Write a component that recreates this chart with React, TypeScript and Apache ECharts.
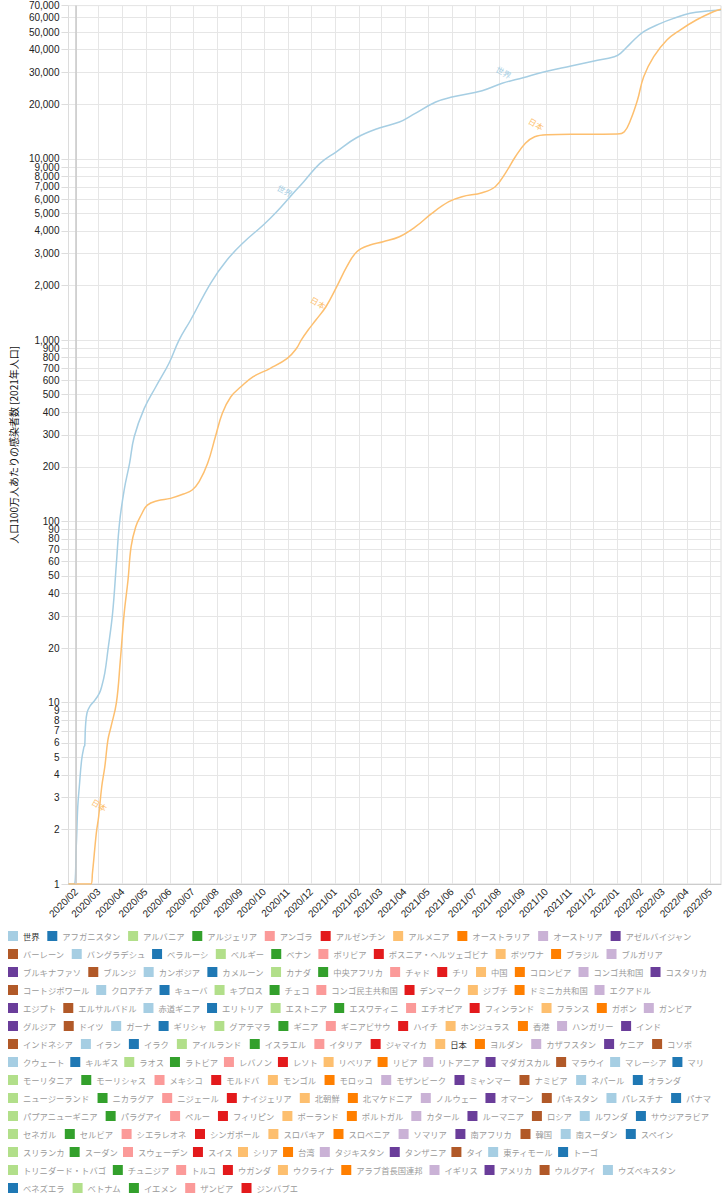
import React, { useEffect, useRef } from "react";
import * as echarts from "echarts";

const PALETTE = [
  "#a6cee3", "#1f78b4", "#b2df8a", "#33a02c", "#fb9a99", "#e31a1c",
  "#fdbf6f", "#ff7f00", "#cab2d6", "#6a3d9a", "#b15928",
];

const legendRows: string[][] = [
  ["世界", "アフガニスタン", "アルバニア", "アルジェリア", "アンゴラ", "アルゼンチン", "アルメニア", "オーストラリア", "オーストリア", "アゼルバイジャン"],
  ["バーレーン", "バングラデシュ", "ベラルーシ", "ベルギー", "ベナン", "ボリビア", "ボスニア・ヘルツェゴビナ", "ボツワナ", "ブラジル", "ブルガリア"],
  ["ブルキナファソ", "ブルンジ", "カンボジア", "カメルーン", "カナダ", "中央アフリカ", "チャド", "チリ", "中国", "コロンビア", "コンゴ共和国", "コスタリカ"],
  ["コートジボワール", "クロアチア", "キューバ", "キプロス", "チェコ", "コンゴ民主共和国", "デンマーク", "ジブチ", "ドミニカ共和国", "エクアドル"],
  ["エジプト", "エルサルバドル", "赤道ギニア", "エリトリア", "エストニア", "エスワティニ", "エチオピア", "フィンランド", "フランス", "ガボン", "ガンビア"],
  ["グルジア", "ドイツ", "ガーナ", "ギリシャ", "グアテマラ", "ギニア", "ギニアビサウ", "ハイチ", "ホンジュラス", "香港", "ハンガリー", "インド"],
  ["インドネシア", "イラン", "イラク", "アイルランド", "イスラエル", "イタリア", "ジャマイカ", "日本", "ヨルダン", "カザフスタン", "ケニア", "コソボ"],
  ["クウェート", "キルギス", "ラオス", "ラトビア", "レバノン", "レソト", "リベリア", "リビア", "リトアニア", "マダガスカル", "マラウイ", "マレーシア", "マリ"],
  ["モーリタニア", "モーリシャス", "メキシコ", "モルドバ", "モンゴル", "モロッコ", "モザンビーク", "ミャンマー", "ナミビア", "ネパール", "オランダ"],
  ["ニュージーランド", "ニカラグア", "ニジェール", "ナイジェリア", "北朝鮮", "北マケドニア", "ノルウェー", "オマーン", "パキスタン", "パレスチナ", "パナマ"],
  ["パプアニューギニア", "パラグアイ", "ペルー", "フィリピン", "ポーランド", "ポルトガル", "カタール", "ルーマニア", "ロシア", "ルワンダ", "サウジアラビア"],
  ["セネガル", "セルビア", "シエラレオネ", "シンガポール", "スロバキア", "スロベニア", "ソマリア", "南アフリカ", "韓国", "南スーダン", "スペイン"],
  ["スリランカ", "スーダン", "スウェーデン", "スイス", "シリア", "台湾", "タジキスタン", "タンザニア", "タイ", "東ティモール", "トーゴ"],
  ["トリニダード・トバゴ", "チュニジア", "トルコ", "ウガンダ", "ウクライナ", "アラブ首長国連邦", "イギリス", "アメリカ", "ウルグアイ", "ウズベキスタン"],
  ["ベネズエラ", "ベトナム", "イエメン", "ザンビア", "ジンバブエ"],
];

const activeNames = ["世界", "日本"];

const worldDates = [
  "2020-01-22", "2020-01-29", "2020-02-01", "2020-02-03", "2020-02-05", "2020-02-08",
  "2020-02-11", "2020-02-12", "2020-02-13", "2020-02-15", "2020-02-19", "2020-02-25",
  "2020-03-02", "2020-03-05", "2020-03-09", "2020-03-13", "2020-03-19", "2020-03-24",
  "2020-03-28", "2020-04-03", "2020-04-10", "2020-04-16", "2020-04-29", "2020-05-14",
  "2020-05-31", "2020-06-13", "2020-06-28", "2020-07-24", "2020-08-14",
  "2020-09-05", "2020-09-30", "2020-10-17", "2020-11-04", "2020-11-21", "2020-12-12",
  "2021-01-02", "2021-01-28", "2021-02-27", "2021-03-25", "2021-04-11", "2021-05-11",
  "2021-06-01", "2021-07-10", "2021-08-05", "2021-09-01", "2021-09-29", "2021-11-02",
  "2021-12-02", "2021-12-28", "2022-01-05", "2022-01-18", "2022-02-04", "2022-02-26",
  "2022-03-15", "2022-04-05", "2022-04-27", "2022-05-15",
];
const worldValues = [
  1, 1, 1.6, 2.67, 3.44, 4.83,
  5.7, 5.8, 7.4, 8.8, 9.6, 10.3,
  11.3, 12.3, 14.6, 19.5, 31, 59,
  98, 149, 209, 293, 420, 553,
  745, 1000, 1291, 2065, 2767,
  3476, 4315, 5090, 6196, 7451, 9408,
  10900, 13030, 14790, 15960, 17460, 20570,
  21920, 23750, 26090, 28010, 30230, 32500,
  34630, 36580, 38190, 43350, 50230, 55900,
  59570, 63470, 65350, 66180,
];

const japanDates = [
  "2020-01-22", "2020-02-20", "2020-02-22", "2020-02-27", "2020-03-01", "2020-03-05",
  "2020-03-09", "2020-03-13", "2020-03-17", "2020-03-24", "2020-03-29", "2020-04-03",
  "2020-04-08", "2020-04-12", "2020-04-18", "2020-04-25", "2020-05-03", "2020-05-16",
  "2020-06-02", "2020-06-19", "2020-06-30", "2020-07-09", "2020-07-20", "2020-07-30",
  "2020-08-08", "2020-08-19", "2020-09-01", "2020-09-17", "2020-10-09", "2020-10-31",
  "2020-11-12", "2020-11-18", "2020-11-27", "2020-12-07", "2020-12-20", "2021-01-03",
  "2021-01-16", "2021-01-29", "2021-02-15", "2021-03-04", "2021-03-25", "2021-04-15",
  "2021-05-06", "2021-05-28", "2021-06-14", "2021-07-10", "2021-07-27", "2021-08-09",
  "2021-08-22", "2021-09-04", "2021-09-16", "2021-10-03", "2021-11-15", "2022-01-01",
  "2022-01-10", "2022-01-18", "2022-01-27", "2022-02-04", "2022-02-17", "2022-03-06",
  "2022-03-23", "2022-04-13", "2022-05-05", "2022-05-15",
];
const japanValues = [
  1, 1, 1.15, 1.91, 2.35, 3.44,
  4.44, 6.23, 7.37, 10, 17, 31,
  47.5, 72.5, 93.5, 108.5, 123, 130,
  134, 141.7, 149, 165.5, 209, 293,
  395, 487, 553, 629, 699, 793,
  901, 1000, 1137, 1291, 1528, 1971,
  2541, 3073, 3346, 3490, 3718, 4222,
  5004, 5800, 6180, 6501, 7015, 8318,
  10270, 12170, 13240, 13580, 13660, 13700,
  14110, 16370, 21100, 28370, 36580, 45220,
  51330, 58300, 64770, 66760,
];

// in-line series labels: [date, value]
const worldLabelPoints: [string, number][] = [
  ["2020-10-28", 6670],
  ["2021-08-07", 30000],
];
const japanLabelPoints: [string, number][] = [
  ["2020-03-02", 2.73],
  ["2020-12-10", 1608],
  ["2021-09-18", 15560],
];

const yTickValues = [
  1, 2, 3, 4, 5, 6, 7, 8, 9,
  10, 20, 30, 40, 50, 60, 70, 80, 90,
  100, 200, 300, 400, 500, 600, 700, 800, 900,
  1000, 2000, 3000, 4000, 5000, 6000, 7000, 8000, 9000,
  10000, 20000, 30000, 40000, 50000, 60000, 70000,
];

const monthTicks = [
  "2020-02-01", "2020-03-01", "2020-04-01", "2020-05-01", "2020-06-01", "2020-07-01",
  "2020-08-01", "2020-09-01", "2020-10-01", "2020-11-01", "2020-12-01", "2021-01-01",
  "2021-02-01", "2021-03-01", "2021-04-01", "2021-05-01", "2021-06-01", "2021-07-01",
  "2021-08-01", "2021-09-01", "2021-10-01", "2021-11-01", "2021-12-01", "2022-01-01",
  "2022-02-01", "2022-03-01", "2022-04-01", "2022-05-01",
];

const X_MIN = "2020-01-22";
const X_MAX = "2022-05-15";
const Y_NAME = "人口100万人あたりの感染者数 [2021年人口]";

// layout: x where each legend row ends in the reference
const LEGEND_ROW_ENDS = [692, 663, 707, 651, 692, 661, 692, 704, 681, 711, 709, 674, 598, 676, 298];
const LEGEND_FONT_SIZE = 8.3;
const LEGEND_LEFT = 8;

const FONT = "'Liberation Sans', Arial, 'Noto Sans CJK JP', sans-serif";
const CJK_FONT = "'Noto Sans CJK JP', 'Liberation Sans', sans-serif";

// date string "YYYY-MM-DD" -> UTC timestamp
const ts = (s: string) => {
  const [y, m, d] = s.split("-").map(Number);
  return Date.UTC(y, m - 1, d);
};

export default function App() {
  const ref = useRef<HTMLDivElement>(null);

  useEffect(() => {
    if (!ref.current) return;
    const chart = echarts.init(ref.current, undefined, { renderer: "svg" });

    const allNames = legendRows.flat();
    const colorOf = (name: string) => PALETTE[allNames.indexOf(name) % PALETTE.length];

    const ctx = document.createElement("canvas").getContext("2d");
    const textWidth = (s: string) => {
      if (!ctx) return s.length * LEGEND_FONT_SIZE;
      ctx.font = `normal normal ${LEGEND_FONT_SIZE}px ${CJK_FONT}`;
      return ctx.measureText(s).width;
    };

    const labelMark = (points: [string, number][], text: string, color: string) => ({
      silent: true,
      symbol: "rect",
      symbolSize: 1,
      itemStyle: { color: "rgba(0,0,0,0)" },
      label: {
        show: true,
        position: "inside",
        formatter: text,
        rotate: -30,
        fontSize: 8,
        color,
        fontFamily: CJK_FONT,
      },
      data: points.map((p) => ({ coord: [ts(p[0]), p[1]] })),
    });

    const series: any[] = allNames.map((name) => {
      const color = colorOf(name);
      const base: any = {
        name,
        type: "line",
        color,
        showSymbol: false,
        symbol: "none",
        smooth: 0.4,
        lineStyle: { width: 1.5, color },
        itemStyle: { color },
        data: [] as any[],
      };
      if (name === "世界") {
        base.data = worldDates.map((d, i) => [ts(d), worldValues[i]]);
        base.markPoint = labelMark(worldLabelPoints, "世界", color);
        base.markLine = {
          silent: true,
          symbol: ["none", "none"],
          label: { show: false },
          lineStyle: { color: "#c9c9c9", width: 1.5, type: "solid" },
          data: [{ xAxis: ts(monthTicks[0]) }],
        };
      } else if (name === "日本") {
        base.data = japanDates.map((d, i) => [ts(d), japanValues[i]]);
        base.markPoint = labelMark(japanLabelPoints, "日本", color);
      }
      return base;
    });

    const legends = legendRows.map((row, i) => {
      const n = row.length;
      const textSum = row.reduce((acc, s) => acc + textWidth(s), 0);
      const free = LEGEND_ROW_ENDS[i] - LEGEND_LEFT - 15 * n - textSum;
      const gap = n > 1 ? Math.max(3, Math.min(10, free / (n - 1))) : 8;
      return {
        orient: "horizontal",
        left: LEGEND_LEFT,
        top: 931 + i * 18,
        width: 716,
        padding: 0,
        itemGap: gap,
        itemWidth: 10,
        itemHeight: 10,
        icon: "rect",
        selectedMode: false,
        textStyle: { fontSize: LEGEND_FONT_SIZE, color: "#999", fontFamily: CJK_FONT },
        data: row.map((name) => ({
          name,
          textStyle: { color: activeNames.includes(name) ? "#333" : "#9a9a9a" },
        })),
      };
    });

    const monthValues = monthTicks.map(ts);
    const fmtMonth = (v: number) => {
      const d = new Date(v);
      return d.getUTCFullYear() + "/" + String(d.getUTCMonth() + 1).padStart(2, "0");
    };

    chart.setOption({
      animation: false,
      backgroundColor: "#ffffff",
      grid: {
        left: 63,
        right: 3,
        top: 5.6,
        bottom: 316,
        show: true,
        borderColor: "#dcdcdc",
        borderWidth: 1,
        containLabel: false,
      },
      legend: legends,
      xAxis: {
        type: "value",
        min: ts(X_MIN),
        max: ts(X_MAX),
        axisLine: { show: true, lineStyle: { color: "#cccccc", width: 1 } },
        axisTick: { show: false, customValues: monthValues },
        splitLine: { show: true, lineStyle: { color: "#e6e6e6", width: 1 } },
        axisLabel: {
          customValues: monthValues,
          formatter: fmtMonth,
          rotate: 45,
          fontSize: 10,
          color: "#222",
          margin: 6,
          fontFamily: FONT,
        },
      },
      yAxis: {
        type: "log",
        logBase: 10,
        min: 1,
        max: 70000,
        name: Y_NAME,
        nameLocation: "middle",
        nameGap: 40,
        nameRotate: 90,
        nameTextStyle: { fontSize: 10, color: "#111", fontFamily: CJK_FONT },
        axisLine: { show: false },
        axisTick: { show: true, length: 7, customValues: yTickValues, lineStyle: { color: "#dddddd" } },
        splitLine: { show: true, lineStyle: { color: "#e6e6e6", width: 1 } },
        axisLabel: {
          customValues: yTickValues,
          formatter: (v: number) => Math.round(v).toLocaleString("en-US"),
          fontSize: 10,
          color: "#222",
          margin: 9,
          fontFamily: FONT,
        },
      },
      series,
    });

    return () => chart.dispose();
  }, []);

  return (
    <div
      ref={ref}
      style={{ position: "fixed", left: 0, top: 0, width: 724, height: 1200, background: "#fff" }}
    />
  );
}
